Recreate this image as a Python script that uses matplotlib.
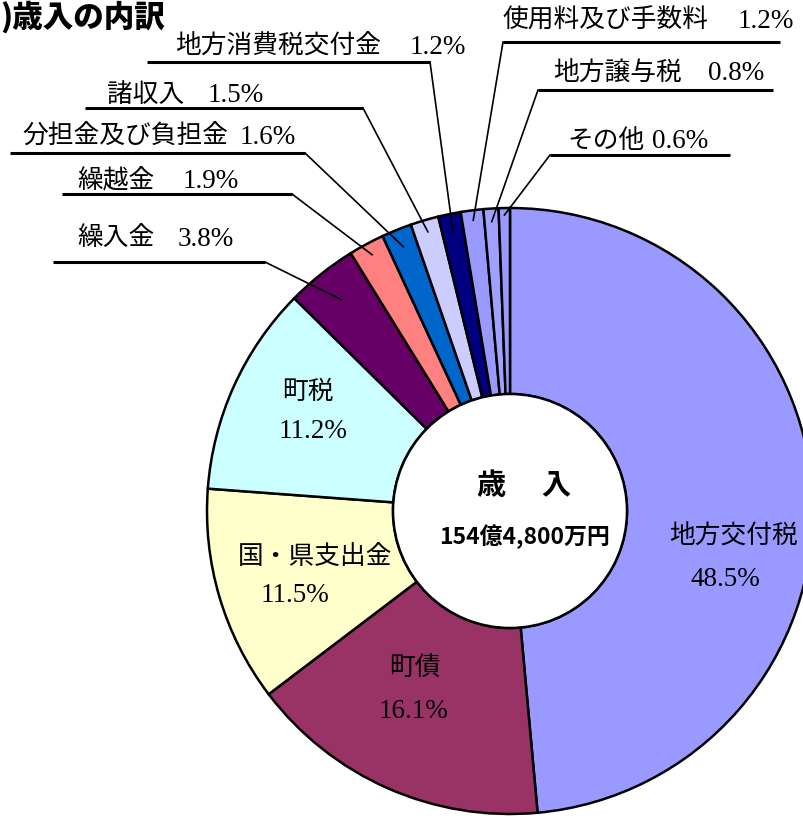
import matplotlib
matplotlib.use('Agg')
import matplotlib.pyplot as plt
import numpy as np

### Data ###
names = ['地方交付税', '町債', '国・県支出金', '町税', '繰入金', '繰越金',
         '分担金及び負担金', '諸収入', '地方消費税交付金', '使用料及び手数料',
         '地方譲与税', 'その他']
shares = [48.5, 16.1, 11.5, 11.2, 3.8, 1.9, 1.6, 1.5, 1.2, 1.2, 0.8, 0.6]
colors = ['#9999FF', '#993366', '#FFFFCC', '#CCFFFF', '#660066', '#FF8080',
          '#0066CC', '#CCCCFF', '#000080', '#9999FF', '#A0A0FF', '#9999FF']
title = ')歳入の内訳'
center_title = '歳　 入'
center_total = '154億4,800万円'

### Layout (pixels, y measured from the top) ###
W, H = 804, 816
cx, cy = 510, 511
R, R_in = 303, 117

# labels inside the ring: index -> (name x, name y, pct x, pct y)
inner = {0: (734, 537, 725, 580),
         1: (415, 668, 413, 712),
         2: (315, 558, 295, 595),
         3: (308, 392, 313, 432)}
# labels outside: index -> (name x, pct x, text y, underline x0, x1, y, side, anchor radius)
outer = {4: (77, 178, 239, 53, 265, 262, 'L', 270),
         5: (77, 183, 181, 62, 292, 194, 'L', 291),
         6: (22, 240, 137, 10, 305, 153, 'L', 285),
         7: (107, 208, 95, 85, 363, 108, 'L', 291),
         8: (175, 410, 47, 147, 430, 62, 'L', 285),
         9: (503, 738, 21, 503, 780, 42, 'R', 293),
         10: (553, 708, 74, 538, 773, 90, 'R', 290),
         11: (567, 652, 141, 550, 730, 155, 'R', 296)}

jp = ['Noto Sans CJK JP', 'DejaVu Sans']
num = ['Liberation Serif', 'Noto Sans CJK JP']

def py(y):
    return H - y

fig = plt.figure(figsize=(W / 100, H / 100), dpi=100)
ax = fig.add_axes([0, 0, 1, 1])

wedges, _ = ax.pie(shares, colors=colors, startangle=90, counterclock=False,
                   center=(cx, py(cy)), radius=R,
                   wedgeprops=dict(width=R - R_in, edgecolor='black', linewidth=1.8))
ax.add_patch(plt.Circle((cx, py(cy)), R_in, facecolor='white', edgecolor='black',
                        linewidth=1.8, zorder=3))
ax.set_xlim(0, W)
ax.set_ylim(0, H)
ax.set_aspect('equal')
ax.axis('off')

# labels inside the ring
for i, (nx, ny, px, pyy) in inner.items():
    ax.text(nx, py(ny), names[i], family=jp, fontsize=18.5, ha='center', va='center')
    ax.text(px, py(pyy), '%.1f%%' % shares[i], family=num, fontsize=19.5, ha='center', va='center')

# small slices: text over an underline, with a leader to the wedge
for i, (nx, px, ty, ux0, ux1, uy, side, ra) in outer.items():
    w = wedges[i]
    mid = np.deg2rad((w.theta1 + w.theta2) / 2)
    axx = cx + ra * np.cos(mid)
    ayy = py(cy) + ra * np.sin(mid)
    jx = ux1 if side == 'L' else ux0
    ax.plot([ux0, ux1], [py(uy), py(uy)], color='black', lw=2.2, solid_capstyle='butt')
    ax.plot([jx, axx], [py(uy), ayy], color='black', lw=1.2)
    ax.text(nx, py(ty), names[i], family=jp, fontsize=18.5, ha='left', va='center')
    ax.text(px, py(ty), '%.1f%%' % shares[i], family=num, fontsize=19.5, ha='left', va='center')

# centre of the ring
ax.text(524, py(485), center_title, family=jp, fontsize=21, fontweight='bold',
        ha='center', va='center', zorder=4)
ax.text(525, py(537), center_total, family=jp, fontsize=16.5, fontweight='bold',
        ha='center', va='center', zorder=4)

# heading in the top left corner
fig.text(0.0, 1.0, title, family=jp, fontsize=22, fontweight='heavy',
         ha='left', va='top')

fig.savefig('out.png', dpi=100)
